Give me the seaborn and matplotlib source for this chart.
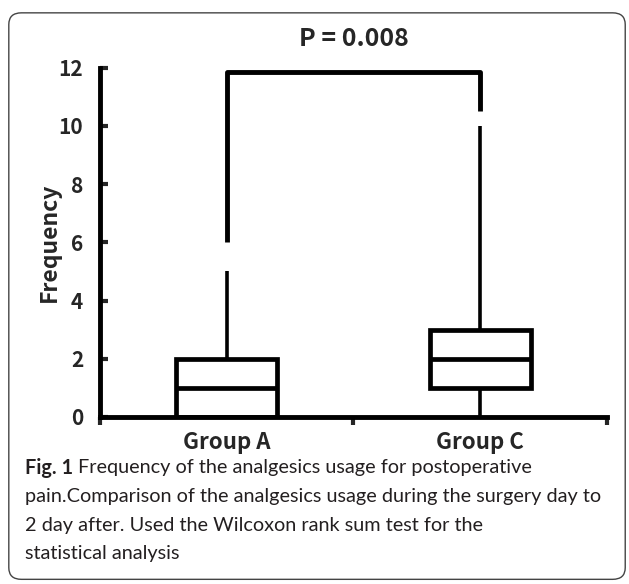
import numpy as np
import pandas as pd
import matplotlib
matplotlib.use("Agg")
import matplotlib.pyplot as plt
import seaborn as sns
from matplotlib.patches import FancyBboxPatch

# data: analgesic usage counts per patient (read from box summary)
groups = ["Group A", "Group C"]
group_a = [0, 0, 0, 0, 1, 1, 1, 2, 2, 2, 3, 5]
group_c = [0, 1, 1, 1, 2, 2, 2, 3, 3, 3, 4, 10]
p_text = "P = 0.008"
bracket_left, bracket_top, bracket_right = 6, 11.85, 10.5
y_ticks = [0, 2, 4, 6, 8, 10, 12]
caption_bold = "Fig. 1"
caption_lines = [
    "Frequency of the analgesics usage for postoperative",
    "pain.Comparison of the analgesics usage during the surgery day to",
    "2 day after. Used the Wilcoxon rank sum test for the",
    "statistical analysis",
]

df = pd.DataFrame({
    "group": [groups[0]] * len(group_a) + [groups[1]] * len(group_c),
    "freq": group_a + group_c,
})

sns.set_style("white")
plt.rcParams["font.family"] = ["Noto Sans CJK JP", "DejaVu Sans"]
plt.rcParams["font.weight"] = "bold"

fig = plt.figure(figsize=(6.29, 5.84), dpi=100)
ax = fig.add_axes([0.159, 0.286, 0.806, 0.598])

sns.boxplot(data=df, x="group", y="freq", order=groups, ax=ax,
            width=0.4, whis=(0, 100), showcaps=False,
            color="white", linecolor="black", linewidth=3.4,
            whiskerprops=dict(linewidth=2.6),
            medianprops=dict(linewidth=3.4))

# significance bracket
ax.plot([0, 0, 1, 1], [bracket_left, bracket_top, bracket_top, bracket_right],
        color="black", lw=3.5, clip_on=False, solid_capstyle="butt")
ax.text(0.5, 13.0, p_text, ha="center", va="center", fontsize=18)

ax.set_xlim(-0.5, 1.5)
ax.set_ylim(0, 12)
ax.set_yticks(y_ticks)
ax.tick_params(axis="y", left=True, direction="in", length=6, width=3,
               labelsize=15, pad=12)
ax.set_xticks([-0.5, 0.5, 1.5], minor=True)
ax.tick_params(axis="x", which="major", bottom=True, length=0, labelsize=16, pad=10)
ax.tick_params(axis="x", which="minor", bottom=True, direction="out", length=6, width=3)
ax.set_xlabel("")
ax.set_ylabel("Frequency", fontsize=16.5, fontweight="bold", labelpad=-2)
sns.despine(ax=ax)
for s in ["left", "bottom"]:
    ax.spines[s].set_linewidth(3.5)
    ax.spines[s].set_color("black")

# caption
cap_font = ["Lato", "DejaVu Sans"]
x0, y0, dy = 0.040, 0.199, 0.049
t_bold = fig.text(x0, y0, caption_bold, fontsize=14.3, fontweight="bold",
                  family=cap_font, va="center", color="#231f20")
fig.canvas.draw()
bb = t_bold.get_window_extent().transformed(fig.transFigure.inverted())
fig.text(bb.x1 + 0.008, y0, caption_lines[0], fontsize=14.3, family=cap_font,
         fontweight="normal", va="center", color="#231f20")
for i, ln in enumerate(caption_lines[1:]):
    fig.text(x0, y0 - (i + 1) * dy, ln, fontsize=14.3, family=cap_font,
             fontweight="normal", va="center", color="#231f20")

# rounded frame
frame = FancyBboxPatch((0.014, 0.008), 0.98, 0.97, boxstyle="round,pad=0,rounding_size=0.02",
                       transform=fig.transFigure, fill=False, edgecolor="#444444", lw=1.0)
fig.patches.append(frame)

fig.savefig("out.png", dpi=100)
